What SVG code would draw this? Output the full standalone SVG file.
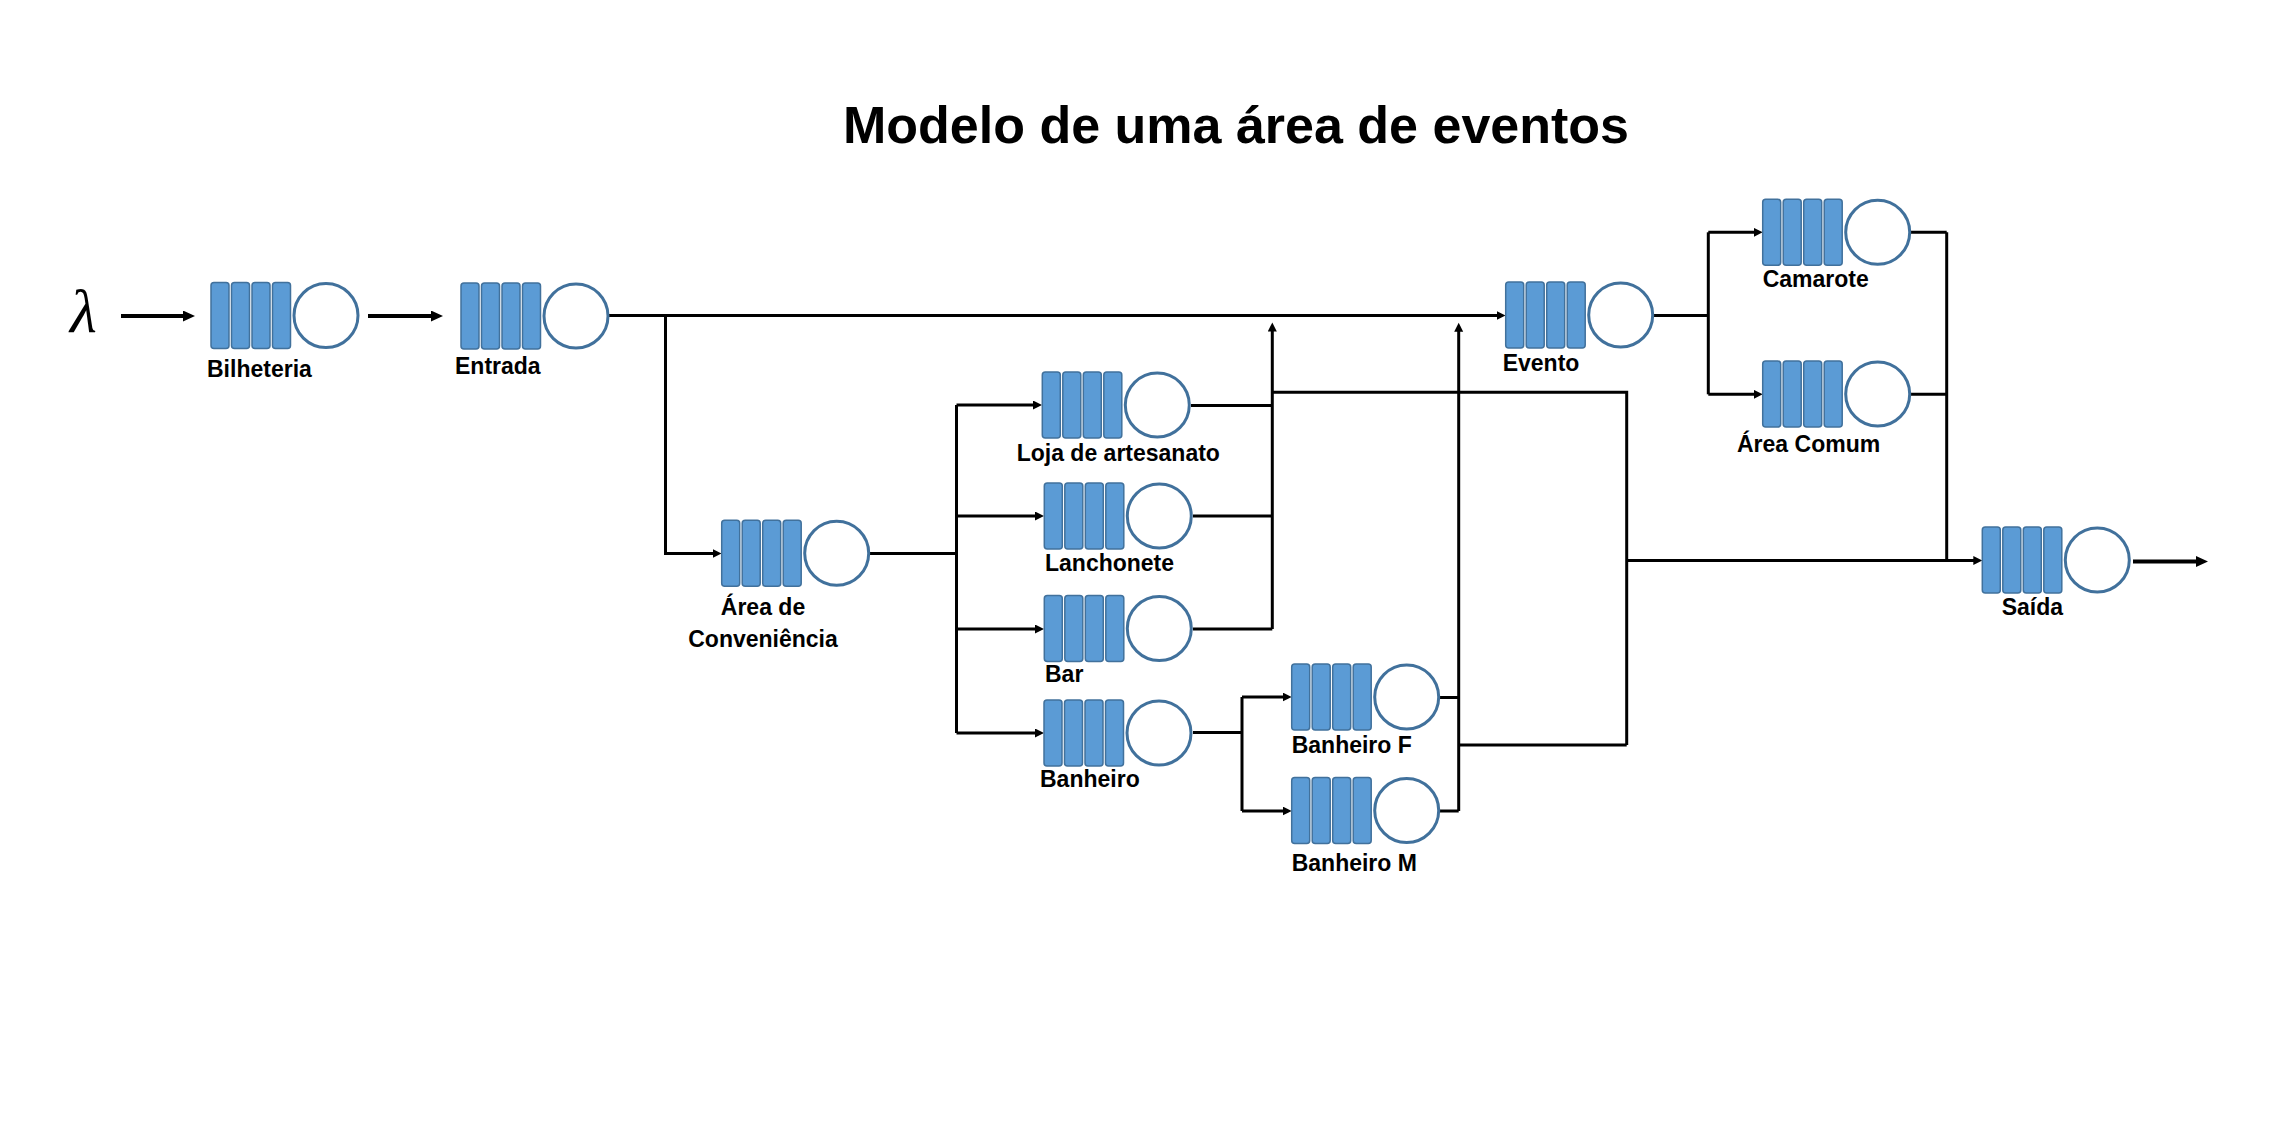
<svg xmlns="http://www.w3.org/2000/svg" xmlns:xlink="http://www.w3.org/1999/xlink" width="2287" height="1136" viewBox="0 0 2287 1136">
<style>
.lbl{font-family:"Liberation Sans",Arial,sans-serif;font-weight:bold;font-size:23px;fill:#000}
.title{font-family:"Liberation Sans",Arial,sans-serif;font-weight:bold;font-size:52px;fill:#000}
.lam{font-family:"Liberation Serif","Times New Roman",serif;font-style:italic;font-size:62px;fill:#000}
.c{fill:none;stroke:#000;stroke-width:3;stroke-linejoin:miter}
.a{marker-end:url(#ah)}
.big{stroke-width:4;marker-end:url(#ahb)}
.q{fill:#5B9BD5;stroke:#41719C;stroke-width:1.5}
.s{fill:#fff;stroke:#41719C;stroke-width:3}
</style>
<defs>
<marker id="ah" markerUnits="userSpaceOnUse" markerWidth="10" markerHeight="10" refX="5" refY="4.5" orient="auto">
<path d="M0,0 L9,4.5 L0,9 z" fill="#000"/>
</marker>
<marker id="ahb" markerUnits="userSpaceOnUse" markerWidth="14" markerHeight="13" refX="6" refY="5.5" orient="auto">
<path d="M0,0 L12,5.5 L0,11 z" fill="#000"/>
</marker>
<g id="q">
<rect class="q" x="0" y="-33" width="18" height="66" rx="3"/>
<rect class="q" x="20.5" y="-33" width="18" height="66" rx="3"/>
<rect class="q" x="41" y="-33" width="18" height="66" rx="3"/>
<rect class="q" x="61.5" y="-33" width="18" height="66" rx="3"/>
<circle class="s" cx="115" cy="0" r="32"/>
</g>
</defs>
<rect width="2287" height="1136" fill="#fff"/>
<text class="title" x="1236" y="143" text-anchor="middle">Modelo de uma área de eventos</text>
<text class="lam" x="70" y="332">λ</text>

<g id="connectors">
<path class="c big" d="M121,316 H189"/>
<path class="c big" d="M368,316 H437"/>
<path class="c a" d="M609,315.5 H1501.5"/>
<path class="c a" d="M665.5,315.5 V553.5 H717.5"/>
<path class="c" d="M870,553.5 H956.5"/>
<path class="c" d="M956.5,405 V733"/>
<path class="c a" d="M956.5,405 H1038"/>
<path class="c a" d="M956.5,516 H1040"/>
<path class="c a" d="M956.5,629 H1040"/>
<path class="c a" d="M956.5,733 H1040"/>
<path class="c" d="M1191,405.5 H1272.3"/>
<path class="c" d="M1193,516 H1272.3"/>
<path class="c" d="M1193,629 H1272.3"/>
<path class="c a" d="M1272.3,629 V326.5"/>
<path class="c" d="M1272.3,392.3 H1626.7 V745"/>
<path class="c" d="M1458.7,745 H1626.7"/>
<path class="c a" d="M1626.7,560.5 H1978.3"/>
<path class="c" d="M1193,732.5 H1242"/>
<path class="c" d="M1242,697 V811"/>
<path class="c a" d="M1242,697 H1287.7"/>
<path class="c a" d="M1242,811 H1287.7"/>
<path class="c" d="M1440,697.5 H1458.7"/>
<path class="c" d="M1440,811 H1458.7"/>
<path class="c a" d="M1458.7,811 V326.7"/>
<path class="c" d="M1654,315.5 H1708.3"/>
<path class="c" d="M1708.3,232.3 V394.3"/>
<path class="c a" d="M1708.3,232.3 H1758.7"/>
<path class="c a" d="M1708.3,394.3 H1758.7"/>
<path class="c" d="M1911,232.3 H1946.7"/>
<path class="c" d="M1911,394.3 H1946.7"/>
<path class="c" d="M1946.7,232.3 V560.5"/>
<path class="c big" d="M2133,561.5 H2202"/>
</g>

<g id="bilheteria"><use xlink:href="#q" x="211" y="315.5"/><text class="lbl" x="207" y="377">Bilheteria</text></g>
<g id="entrada"><use xlink:href="#q" x="461" y="316"/><text class="lbl" x="455" y="374">Entrada</text></g>
<g id="evento"><use xlink:href="#q" x="1505.7" y="315"/><text class="lbl" x="1502.7" y="370.7">Evento</text></g>
<g id="camarote"><use xlink:href="#q" x="1762.7" y="232.3"/><text class="lbl" x="1762.7" y="287">Camarote</text></g>
<g id="area-comum"><use xlink:href="#q" x="1762.7" y="394"/><text class="lbl" x="1737" y="452">Área Comum</text></g>
<g id="area-conveniencia"><use xlink:href="#q" x="721.7" y="553.3"/><text class="lbl" x="763" y="615" text-anchor="middle">Área de</text><text class="lbl" x="763" y="647.3" text-anchor="middle">Conveniência</text></g>
<g id="loja"><use xlink:href="#q" x="1042.3" y="405"/><text class="lbl" x="1016.7" y="461">Loja de artesanato</text></g>
<g id="lanchonete"><use xlink:href="#q" x="1044.3" y="516"/><text class="lbl" x="1045" y="570.7">Lanchonete</text></g>
<g id="bar"><use xlink:href="#q" x="1044.3" y="628.5"/><text class="lbl" x="1045" y="682">Bar</text></g>
<g id="banheiro"><use xlink:href="#q" x="1044" y="733"/><text class="lbl" x="1040" y="787">Banheiro</text></g>
<g id="banheiro-f"><use xlink:href="#q" x="1291.7" y="697"/><text class="lbl" x="1291.7" y="753.3">Banheiro F</text></g>
<g id="banheiro-m"><use xlink:href="#q" x="1291.7" y="810.5"/><text class="lbl" x="1291.7" y="871">Banheiro M</text></g>
<g id="saida"><use xlink:href="#q" x="1982.3" y="560"/><text class="lbl" x="2001.7" y="615">Saída</text></g>
</svg>
